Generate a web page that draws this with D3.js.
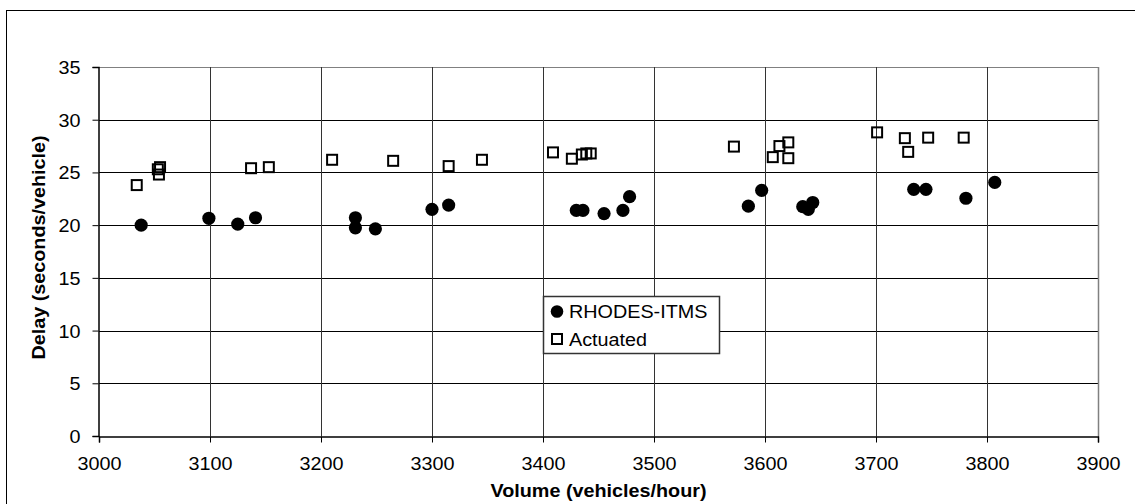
<!DOCTYPE html>
<html><head><meta charset="utf-8">
<script src="https://cdn.jsdelivr.net/npm/d3@7"></script>
<style>body{margin:0;background:#fff}svg{display:block}text{font-family:"Liberation Sans",Arial,sans-serif;fill:#000}</style>
</head><body><svg id="c" width="1135" height="504"></svg>
<script>
const rhodesVolume = [3038,3099,3125,3141,3231,3231,3249,3300,3315,3430,3436,3455,3472,3478,3585,3597,3634,3639,3643,3734,3745,3781,3807];
const rhodesDelay  = [20.0,20.65,20.1,20.7,20.7,19.75,19.65,21.5,21.9,21.4,21.4,21.1,21.4,22.7,21.8,23.3,21.75,21.5,22.15,23.4,23.4,22.55,24.05];
const actVolume = [3034,3053,3055,3054,3137,3153,3210,3265,3315,3345,3409,3426,3435,3439,3443,3572,3607,3613,3621,3621,3701,3726,3729,3747,3779];
const actDelay  = [23.8,25.3,25.5,24.8,25.4,25.5,26.2,26.1,25.6,26.2,26.9,26.3,26.7,26.8,26.8,27.45,26.45,27.5,27.85,26.35,28.8,28.25,26.95,28.3,28.3];
const xTicks = [3000,3100,3200,3300,3400,3500,3600,3700,3800,3900];
const yTicks = [0,5,10,15,20,25,30,35];
const seriesNames = ["RHODES-ITMS","Actuated"];
const xTitle = "Volume (vehicles/hour)";
const yTitle = "Delay (seconds/vehicle)";

const svg = d3.select("#c");
const L=99, R=1098, T=67, B=436;
const x = d3.scaleLinear().domain([3000,3900]).range([L,R]);
const y = d3.scaleLinear().domain([0,35]).range([B,T]);
const FS = 18.5, SX = 1.07;

// outer chart border (right/bottom outside view)
svg.append("rect").attr("x",6.5).attr("y",10.5).attr("width",1140).attr("height",500)
  .attr("fill","none").attr("stroke","#000").attr("stroke-width",1);

// gridlines
const g = svg.append("g");
g.selectAll(".hg").data(yTicks.filter(d=>d>0)).join("line")
  .attr("x1",L).attr("x2",R).attr("y1",d=>Math.round(y(d))+0.5).attr("y2",d=>Math.round(y(d))+0.5)
  .attr("stroke",d=>d===35?"#808080":"#000").attr("stroke-width",1);
g.selectAll(".vg").data(xTicks.filter(d=>d>3000 && d<3900)).join("line")
  .attr("y1",T).attr("y2",B).attr("x1",d=>Math.round(x(d))+0.5).attr("x2",d=>Math.round(x(d))+0.5)
  .attr("stroke","#333").attr("stroke-width",1);
// right plot border
g.append("line").attr("x1",R+0.5).attr("x2",R+0.5).attr("y1",T).attr("y2",B).attr("stroke","#808080").attr("stroke-width",1.5);

// axes
const xAxis = d3.axisBottom(x).tickValues(xTicks).tickSize(6).tickFormat(d3.format("d"));
const yAxis = d3.axisLeft(y).tickValues(yTicks).tickSize(6).tickFormat(d3.format("d"));
const xa = svg.append("g").attr("transform",`translate(0,${B+0.5})`).call(xAxis);
const ya = svg.append("g").attr("transform",`translate(${L-0.5},0)`).call(yAxis);
[xa,ya].forEach(a=>{
  a.select(".domain").attr("stroke","#000").attr("stroke-width",1.5);
  a.selectAll(".tick line").attr("stroke","#000");
  a.selectAll(".tick text").attr("font-size",FS).attr("font-family","Liberation Sans, Arial, sans-serif").attr("fill","#000");
});
xa.selectAll(".tick text").attr("y",0).attr("dy",0)
  .attr("transform",`translate(0,33.5) scale(${SX},1)`);
ya.selectAll(".tick text").attr("x",0).attr("dy","0.35em")
  .attr("transform",`translate(-18,0) scale(${SX},1)`);

// titles
svg.append("text").attr("transform",`translate(${(L+R)/2},496.5) scale(${SX},1)`)
  .attr("text-anchor","middle").attr("font-size",FS).attr("font-weight","bold").text(xTitle);
svg.append("text").attr("transform",`translate(45,${(T+B)/2-4}) rotate(-90) scale(${SX},1)`)
  .attr("text-anchor","middle").attr("font-size",FS).attr("font-weight","bold").text(yTitle);

// points
svg.append("g").selectAll("circle").data(d3.range(rhodesVolume.length)).join("circle")
  .attr("cx",i=>x(rhodesVolume[i])).attr("cy",i=>y(rhodesDelay[i])).attr("r",6.6).attr("fill","#000");
const S=10;
svg.append("g").selectAll("rect").data(d3.range(actVolume.length)).join("rect")
  .attr("x",i=>x(actVolume[i])-S/2).attr("y",i=>y(actDelay[i])-S/2).attr("width",S).attr("height",S)
  .attr("fill","none").attr("stroke","#000").attr("stroke-width",2);

// legend
const lg = svg.append("g");
lg.append("rect").attr("x",543.5).attr("y",296.5).attr("width",176).attr("height",57)
  .attr("fill","#fff").attr("stroke","#333").attr("stroke-width",1.5);
lg.append("circle").attr("cx",557).attr("cy",311.5).attr("r",6.3).attr("fill","#000");
lg.append("rect").attr("x",552).attr("y",334).attr("width",10).attr("height",10)
  .attr("fill","none").attr("stroke","#000").attr("stroke-width",2);
lg.selectAll(".lt").data(seriesNames).join("text")
  .attr("transform",(d,i)=>`translate(569,${317.5+i*28}) scale(${SX},1)`)
  .attr("font-size",FS).text(d=>d);
</script></body></html>
